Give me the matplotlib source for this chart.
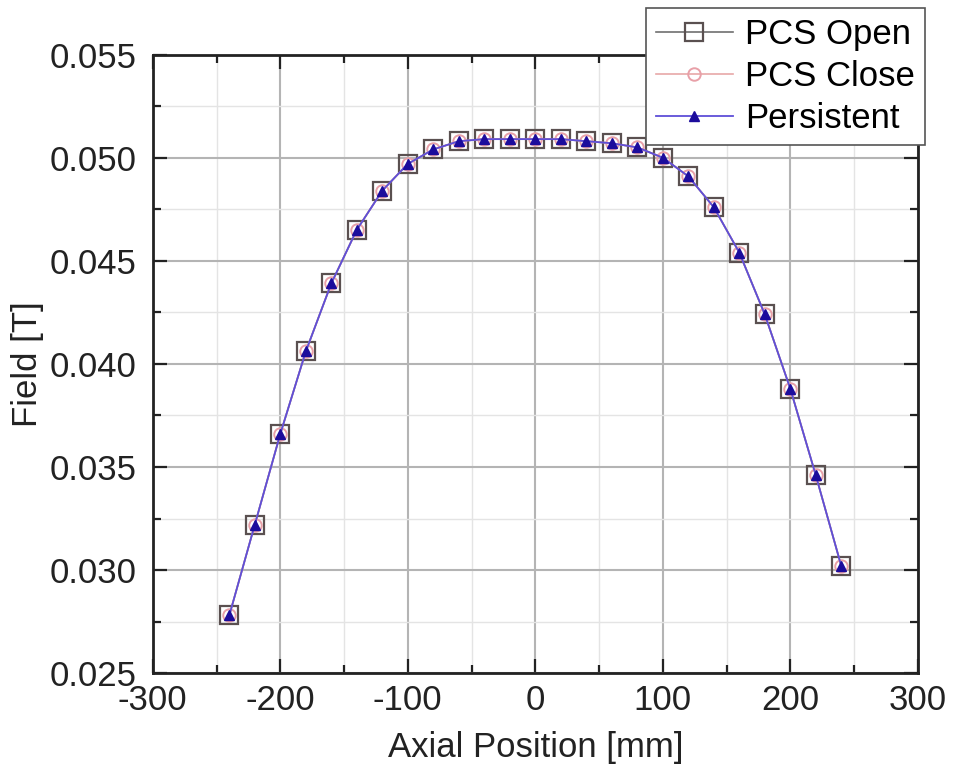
import matplotlib.pyplot as plt
from matplotlib.ticker import MultipleLocator, FormatStrFormatter

plt.rcParams['font.family'] = ['Liberation Sans', 'DejaVu Sans']
plt.rcParams['axes.unicode_minus'] = False

# axial position in mm
position = [-240, -220, -200, -180, -160, -140, -120, -100, -80, -60, -40, -20, 0,
            20, 40, 60, 80, 100, 120, 140, 160, 180, 200, 220, 240]

# field in T (three curves lie on top of each other)
pcs_open = [0.0278, 0.0322, 0.0366, 0.0406, 0.0439, 0.0465, 0.0484, 0.0497, 0.0504,
            0.0508, 0.0509, 0.0509, 0.0509, 0.0509, 0.0508, 0.0507, 0.0505, 0.0500,
            0.0491, 0.0476, 0.0454, 0.0424, 0.0388, 0.0346, 0.0302]
pcs_close = [0.0278, 0.0322, 0.0366, 0.0406, 0.0439, 0.0465, 0.0484, 0.0497, 0.0504,
             0.0508, 0.0509, 0.0509, 0.0509, 0.0509, 0.0508, 0.0507, 0.0505, 0.0500,
             0.0491, 0.0476, 0.0454, 0.0424, 0.0388, 0.0346, 0.0302]
persistent = [0.0278, 0.0322, 0.0366, 0.0406, 0.0439, 0.0465, 0.0484, 0.0497, 0.0504,
              0.0508, 0.0509, 0.0509, 0.0509, 0.0509, 0.0508, 0.0507, 0.0505, 0.0500,
              0.0491, 0.0476, 0.0454, 0.0424, 0.0388, 0.0346, 0.0302]

fig = plt.figure(figsize=(9.55, 7.8), dpi=100)
ax = fig.add_axes([0.160, 0.137, 0.801, 0.793])

ax.plot(position, pcs_open, color='#707070', lw=1.2, marker='s', ms=12.5,
        mfc='none', mec='#5a5050', mew=1.6, label='PCS Open', zorder=3)
ax.plot(position, pcs_close, color='#e8a8a8', lw=1.2, marker='o', ms=9,
        mfc='none', mec='#e8a0a8', mew=1.4, label='PCS Close', zorder=4)
ax.plot(position, persistent, color='#5e4ed8', lw=1.3, marker='^', ms=6.5,
        mfc='#1c0c9c', mec='#1c0c9c', label='Persistent', zorder=5)

ax.set_xlim(-300, 300)
ax.set_ylim(0.025, 0.055)
ax.xaxis.set_major_locator(MultipleLocator(100))
ax.xaxis.set_minor_locator(MultipleLocator(50))
ax.yaxis.set_major_locator(MultipleLocator(0.005))
ax.yaxis.set_minor_locator(MultipleLocator(0.0025))
ax.yaxis.set_major_formatter(FormatStrFormatter('%.3f'))

ax.grid(which='major', color='#b4b4b4', lw=1.5)
ax.grid(which='minor', color='#e4e4e4', lw=1.0)
ax.set_axisbelow(True)

ax.tick_params(which='both', direction='in', top=True, right=True, width=1.6,
               colors='#222222', labelsize=25, labelcolor='#222222')
ax.tick_params(which='major', length=10)
ax.tick_params(which='minor', length=6)
ax.tick_params(axis='x', pad=8)
ax.tick_params(axis='y', pad=12)
for sp in ax.spines.values():
    sp.set_linewidth(2)
    sp.set_color('#222222')

ax.set_xlabel('Axial Position [mm]', fontsize=25, color='#222222', labelpad=10)
ax.set_ylabel('Field [T]', fontsize=25, color='#222222', labelpad=4)

leg = ax.legend(loc='upper right', bbox_to_anchor=(0.9686, 0.9897),
                bbox_transform=fig.transFigure, fontsize=25, frameon=True,
                fancybox=False, edgecolor='#555555', framealpha=1,
                handlelength=2.2, handletextpad=0.35, borderpad=0.3,
                labelspacing=0.25, borderaxespad=0)
leg.get_frame().set_linewidth(1.2)
leg.set_zorder(10)

fig.savefig('out.png', dpi=100)
